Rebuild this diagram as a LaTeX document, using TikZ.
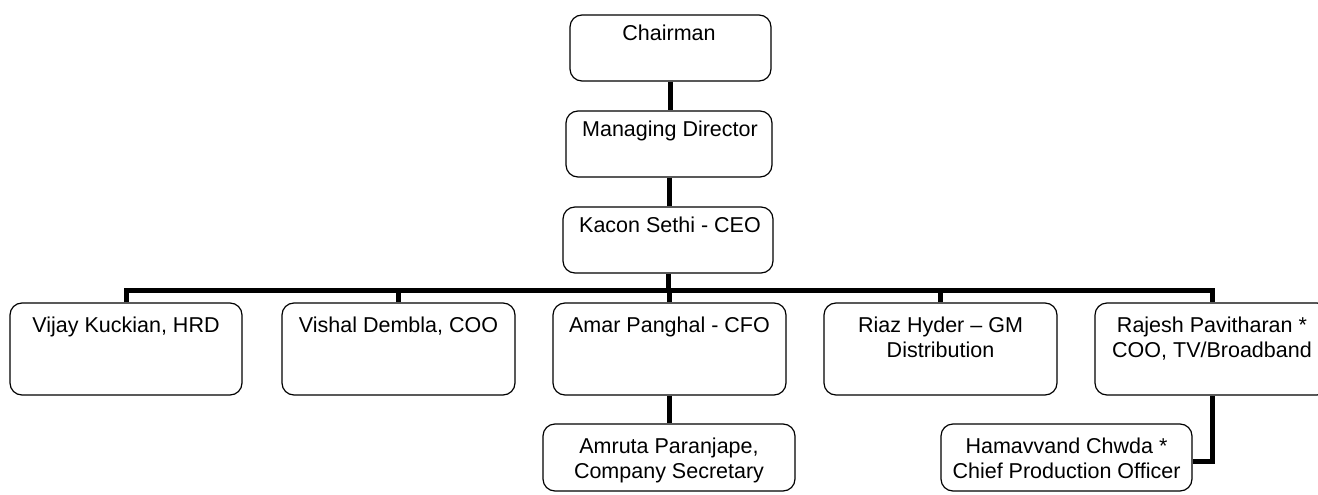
\documentclass[tikz,border=0pt]{standalone}
\usepackage{fontspec}
\setmainfont{Liberation Sans}
\tikzset{
  box/.style={draw, line width=1.2pt, rounded corners=12pt, inner sep=0pt},
  lbl/.style={inner sep=0pt, align=center, anchor=base, font=\fontsize{21.5}{25}\selectfont},
  conn/.style={line width=5pt, line join=miter},
}
\begin{document}
\begin{tikzpicture}[x=1pt,y=-1pt]
\useasboundingbox (0,0) rectangle (1318,495);
\begin{scope}
\clip (0,0) rectangle (1318,495);
% boxes
\node[box, minimum width=201pt, minimum height=66pt] (ch) at (670.5,48) {};
\node[box, minimum width=206pt, minimum height=66pt] (md) at (669,144) {};
\node[box, minimum width=210pt, minimum height=66pt] (ceo) at (668,240) {};
\node[box, minimum width=232pt, minimum height=92pt] (b1) at (126,349) {};
\node[box, minimum width=233pt, minimum height=92pt] (b2) at (398.5,349) {};
\node[box, minimum width=233pt, minimum height=92pt] (b3) at (669.5,349) {};
\node[box, minimum width=233pt, minimum height=92pt] (b4) at (940.5,349) {};
\node[box, minimum width=234pt, minimum height=92pt] (b5) at (1212,349) {};
\node[box, minimum width=252pt, minimum height=67pt] (am) at (669,457.5) {};
\node[box, minimum width=251pt, minimum height=67pt] (ha) at (1066.5,457.5) {};
% texts (two-line texts: anchor base = last line)
\node[lbl] (tch) at (669,41) {Chairman};
\node[lbl] (tmd) at (670,136) {Managing Director};
\node[lbl] (tceo) at (670,232) {Kacon Sethi - CEO};
\node[lbl] (tb1) at (126,332) {Vijay Kuckian, HRD};
\node[lbl] (tb2) at (398.5,332) {Vishal Dembla, COO};
\node[lbl] (tb3) at (669.5,332) {Amar Panghal - CFO};
\node[lbl] (tb4) at (940.5,357) {Riaz Hyder – GM\\Distribution};
\node[lbl] (tb5) at (1212,357) {Rajesh Pavitharan *\\COO, TV/Broadband};
\node[lbl] (tam) at (669,478) {Amruta Paranjape,\\Company Secretary};
\node[lbl] (tha) at (1066.5,478) {Hamavvand Chwda *\\Chief Production Officer};
% connectors
\coordinate (bar) at (668,290);
\draw[conn] (ch.south) -- (ch.south |- md.north);
\draw[conn] (md.south) -- (md.south |- ceo.north);
\draw[conn] (ceo.south) -- (ceo.south |- bar);
\draw[conn] (b1.north) -- (b1.north |- bar) -- (b5.north |- bar) -- (b5.north);
\draw[conn] (b2.north) -- (b2.north |- bar);
\draw[conn] (b3.north) -- (b3.north |- bar);
\draw[conn] (b4.north) -- (b4.north |- bar);
\draw[conn] (b3.south) -- (b3.south |- am.north);
\draw[conn] (b5.south) |- ([yshift=-3.5pt]ha.east);
\end{scope}
\end{tikzpicture}
\end{document}
